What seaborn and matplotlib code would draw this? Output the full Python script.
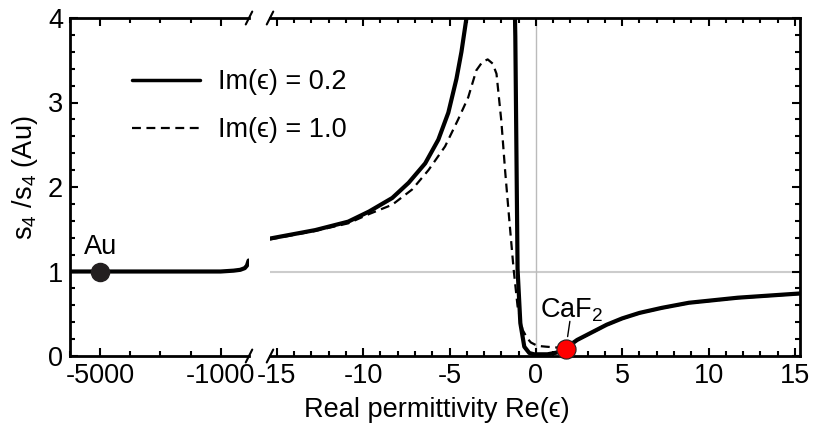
import numpy as np
import pandas as pd
import matplotlib
matplotlib.use("Agg")
import matplotlib.pyplot as plt
from matplotlib.lines import Line2D
from matplotlib.ticker import MultipleLocator, FixedLocator
import seaborn as sns

# --- data ---
# left (metal) segment, shared by both damping values
eps_metal = [-6000, -2000, -1000, -570, -350, -200, -128, -73]
s4_metal = [1.0, 1.0, 1.0, 1.01, 1.02, 1.04, 1.07, 1.13]

# right segment, Im(eps) = 0.2 (points above 4 are clipped by the axes)
eps_02 = [-15.4, -12.78, -10.87, -9.66, -8.32, -7.37, -6.41, -5.65, -5.07,
          -4.6, -4.31, -4.02, -3.75,
          -1.3, -1.19, -1.06, -0.9, -0.67, -0.38, -0.1, 0.67, 1.2,
          1.72, 1.98, 2.39, 3.34, 4.1, 5.0, 6.0, 7.3, 8.86, 11.7, 15.3]
s4_02 = [1.39, 1.49, 1.59, 1.71, 1.87, 2.05, 2.28, 2.56, 2.88,
         3.28, 3.60, 4.0, 4.6,
         5.0, 3.78, 1.03, 0.39, 0.11, 0.035, 0.02, 0.02, 0.04,
         0.08, 0.13, 0.19, 0.29, 0.37, 0.445, 0.51, 0.57, 0.63, 0.69, 0.74]

# right segment, Im(eps) = 1.0
eps_10 = [-15.4, -12.78, -10.87, -9.66, -8.32, -7.17, -6.22, -5.26, -4.5,
          -3.92, -3.45, -3.1, -2.79, -2.5, -2.28, -2.0, -1.78, -1.53, -1.29,
          -1.06, -0.77, -0.5, -0.29, 0.09, 0.6, 1.24, 1.72, 1.98, 2.39,
          3.34, 4.1, 5.0, 6.0, 7.3, 8.86, 11.7, 15.3]
s4_10 = [1.38, 1.48, 1.57, 1.68, 1.79, 1.97, 2.20, 2.48, 2.80,
         3.06, 3.38, 3.48, 3.51, 3.46, 3.34, 2.78, 2.19, 1.59, 1.03,
         0.59, 0.31, 0.21, 0.16, 0.12, 0.11, 0.10, 0.09, 0.12, 0.185,
         0.285, 0.365, 0.44, 0.505, 0.565, 0.625, 0.685, 0.735]

au_point = (-5000, 1.0)
caf2_point = (1.72, 0.08)

labels = ["Im(ϵ) = 0.2", "Im(ϵ) = 1.0"]

sns.set_theme(style="ticks", rc={"axes.edgecolor": "black",
                                 "xtick.color": "black",
                                 "ytick.color": "black",
                                 "text.color": "black",
                                 "axes.labelcolor": "black"})
plt.rcParams["font.family"] = ["Liberation Sans", "DejaVu Sans"]
plt.rcParams["mathtext.default"] = "regular"
FS = 19.5

fig = plt.figure(figsize=(8.13, 4.30), dpi=100)
ax1 = fig.add_axes([70 / 813, 74 / 430, 179 / 813, 338 / 430])
ax2 = fig.add_axes([270 / 813, 74 / 430, 530 / 813, 338 / 430])

solid_kw = dict(color="black", linewidth=3.0, estimator=None, sort=False)
dash_style = (0, (4, 2.5))

# left panel
left = pd.DataFrame({"eps": eps_metal, "s4": s4_metal})
sns.lineplot(data=left, x="eps", y="s4", ax=ax1, **solid_kw)
ax1.scatter([au_point[0]], [au_point[1]], s=170, color="#231f20", zorder=5,
            clip_on=False)
ax1.text(au_point[0], 1.21, "Au", ha="center", va="baseline", fontsize=FS)

# right panel
ax2.axhline(1.0, color="#cccccc", linewidth=1.5, zorder=0)
ax2.axvline(0.0, color="#bbbbbb", linewidth=1.0, zorder=0)
d02 = pd.DataFrame({"eps": eps_02, "s4": s4_02})
d10 = pd.DataFrame({"eps": eps_10, "s4": s4_10})
sns.lineplot(data=d10, x="eps", y="s4", ax=ax2, color="black", linewidth=1.6,
             linestyle=dash_style, estimator=None, sort=False)
sns.lineplot(data=d02, x="eps", y="s4", ax=ax2, **solid_kw)
ax2.scatter([caf2_point[0]], [caf2_point[1]], s=190, color="#ff0000",
            edgecolor="#222222", linewidth=0.8, zorder=6, clip_on=False)
ax2.plot([1.97, 1.84], [0.41, 0.23], color="black", linewidth=1.0)
ax2.text(2.04, 0.455, "CaF$_2$", ha="center", va="baseline", fontsize=FS)

# axes styling
for ax in (ax1, ax2):
    ax.set_ylim(0, 4)
    ax.set_xlabel("")
    ax.set_ylabel("")
    for sp in ax.spines.values():
        sp.set_linewidth(2.0)
    ax.tick_params(which="both", direction="in", width=1.5, labelsize=FS,
                   pad=5)
    ax.tick_params(which="major", length=6)
    ax.tick_params(which="minor", length=3.5)
    ax.yaxis.set_major_locator(MultipleLocator(1))
    ax.yaxis.set_minor_locator(MultipleLocator(0.2))

ax1.set_xlim(-6000, -60)
ax1.xaxis.set_major_locator(FixedLocator([-5000, -1000]))
ax1.xaxis.set_minor_locator(MultipleLocator(1000))
ax1.xaxis.set_major_formatter(lambda v, p: f"-{abs(int(v))}")
ax1.spines["right"].set_visible(False)
ax1.tick_params(which="both", top=True, right=False)
ax1.yaxis.set_major_formatter(lambda v, p: f"{int(v)}")

ax2.set_xlim(-15.4, 15.3)
ax2.xaxis.set_major_locator(MultipleLocator(5))
ax2.xaxis.set_minor_locator(MultipleLocator(1))
ax2.xaxis.set_major_formatter(lambda v, p: f"-{abs(int(v))}" if v < 0 else f"{int(v)}")
ax2.spines["left"].set_visible(False)
ax2.tick_params(which="both", top=True, left=False, right=True, labelleft=False)

# break marks
for ax, xpos in ((ax1, 1.0), (ax2, 0.0)):
    bb = ax.get_position()
    xf = bb.x0 + xpos * bb.width
    for yf in (bb.y0, bb.y1):
        ax.plot([xf - 0.004, xf + 0.004], [yf - 0.015, yf + 0.015],
                transform=fig.transFigure, color="black", linewidth=1.5,
                clip_on=False)

ax1.set_ylabel("s$_4$ /s$_4$ (Au)", fontsize=FS, labelpad=5)
ax1.yaxis.set_label_coords(-0.17, 0.527)
fig.text(437 / 813, 1 - 410 / 430, "Real permittivity Re(ϵ)", ha="center",
         va="center", fontsize=FS)

handles = [Line2D([], [], color="black", linewidth=2.5),
           Line2D([], [], color="black", linewidth=1.6, linestyle=dash_style)]
fig.legend(handles, labels, loc="upper left",
           bbox_to_anchor=(108 / 813, 1 - 45 / 430), frameon=False,
           fontsize=FS, handlelength=2.5, handletextpad=0.67, labelspacing=0.81)

fig.savefig("out.png", dpi=100)
